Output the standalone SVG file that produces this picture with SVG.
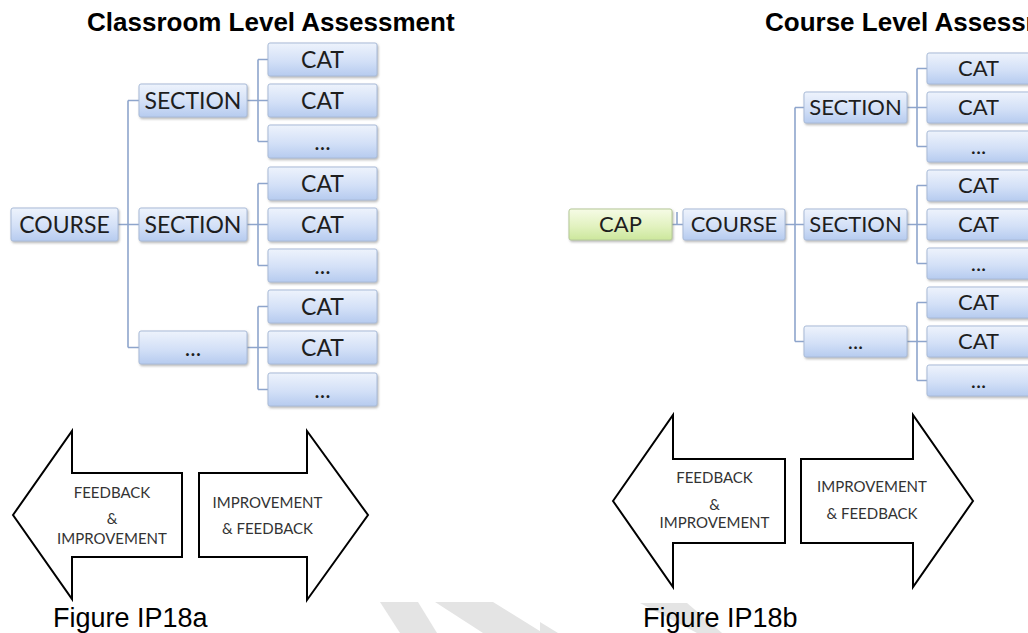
<svg xmlns="http://www.w3.org/2000/svg" width="1028" height="633" viewBox="0 0 1028 633">
  <defs>
    <linearGradient id="blueFill" x1="0" y1="0" x2="0" y2="1">
      <stop offset="0" stop-color="#eef3fc"/>
      <stop offset="0.55" stop-color="#d3e0f7"/>
      <stop offset="1" stop-color="#b6cbef"/>
    </linearGradient>
    <linearGradient id="greenFill" x1="0" y1="0" x2="0" y2="1">
      <stop offset="0" stop-color="#f6fbe6"/>
      <stop offset="0.55" stop-color="#e2f2c0"/>
      <stop offset="1" stop-color="#cce79c"/>
    </linearGradient>
    <filter id="shadow" x="-10%" y="-20%" width="125%" height="150%">
      <feDropShadow dx="1" dy="1.5" stdDeviation="0.8" flood-color="#7a7a7a" flood-opacity="0.55"/>
    </filter>
    <style>
      .box { fill: url(#blueFill); stroke: #a9bbd8; stroke-width: 1; filter: url(#shadow); }
      .cap { fill: url(#greenFill); stroke: #b5c998; stroke-width: 1; filter: url(#shadow); }
      .lbl { font-family: Lato, "Open Sans", sans-serif; font-size: 23px; fill: #1e1e1e; text-anchor: middle; }
      .lblb { font-family: Lato, "Open Sans", sans-serif; font-size: 22px; fill: #1e1e1e; text-anchor: middle; }
      .conn { fill: none; stroke: #8ea5cc; stroke-width: 1.6; }
      .arrow { fill: #ffffff; stroke: #000000; stroke-width: 2; stroke-linejoin: miter; }
      .atxt { font-family: Lato, "Open Sans", sans-serif; font-size: 15px; fill: #333333; text-anchor: middle; }
      .title { font-family: "Liberation Sans", Arial, sans-serif; font-weight: bold; font-size: 26px; fill: #000000; }
      .fig { font-family: "Liberation Sans", Arial, sans-serif; font-size: 27px; fill: #000000; }
      .wm { fill: #e4e4e4; }
    </style>
  </defs>

  <rect x="0" y="0" width="1028" height="633" fill="#ffffff"/>

  <!-- background watermark fragments -->
  <g id="watermark">
    <polygon class="wm" points="380,602 418,602 437,633 400,633"/>
    <polygon class="wm" points="435,602 493,602 543,633 483,633"/>
    <polygon class="wm" points="640,603 687,603 722,633 697,633"/>
    <polygon class="wm" points="540,622 558,633 540,633"/>
  </g>

  <!-- titles -->
  <text id="title-a" class="title" x="87" y="31">Classroom Level Assessment</text>
  <text id="title-b" class="title" x="765" y="31">Course Level Assessment</text>

  <!-- connectors -->
  <g id="connectors">
    <!-- figure a -->
    <path class="conn" d="M118,224.5 H139 M128,100.5 V347.5 M128,100.5 H139 M128,347.5 H139"/>
    <path class="conn" d="M247,100.5 H268 M258,59.5 V141.5 M258,59.5 H268 M258,141.5 H268"/>
    <path class="conn" d="M247,224.5 H268 M258,183.5 V265.5 M258,183.5 H268 M258,265.5 H268"/>
    <path class="conn" d="M247,347.5 H268 M258,306.5 V389.5 M258,306.5 H268 M258,389.5 H268"/>
    <!-- figure b -->
    <path class="conn" d="M672,224.5 H683 M677,212 V224.5"/>
    <path class="conn" d="M785,224.5 H804 M795,107.5 V341.5 M795,107.5 H804 M795,341.5 H804"/>
    <path class="conn" d="M907,107.5 H927 M917,68.5 V146.5 M917,68.5 H927 M917,146.5 H927"/>
    <path class="conn" d="M907,224.5 H927 M917,185.5 V263.5 M917,185.5 H927 M917,263.5 H927"/>
    <path class="conn" d="M907,341.5 H927 M917,302.5 V380.5 M917,302.5 H927 M917,380.5 H927"/>
  </g>

  <!-- figure a nodes -->
  <g id="a-course"><rect class="box" x="11" y="208" width="107" height="33" rx="2"/><text class="lbl" x="64.5" y="233">COURSE</text></g>
  <g id="a-section1"><rect class="box" x="139" y="84" width="108" height="33" rx="2"/><text class="lbl" x="193" y="109">SECTION</text></g>
  <g id="a-section2"><rect class="box" x="139" y="208" width="108" height="33" rx="2"/><text class="lbl" x="193" y="233">SECTION</text></g>
  <g id="a-section3"><rect class="box" x="139" y="331" width="108" height="33" rx="2"/><text class="lbl" x="193" y="356">...</text></g>
  <g id="a-cat1"><rect class="box" x="268" y="43" width="109" height="33" rx="2"/><text class="lbl" x="322.5" y="68">CAT</text></g>
  <g id="a-cat2"><rect class="box" x="268" y="84" width="109" height="33" rx="2"/><text class="lbl" x="322.5" y="109">CAT</text></g>
  <g id="a-cat3"><rect class="box" x="268" y="125" width="109" height="33" rx="2"/><text class="lbl" x="322.5" y="150">...</text></g>
  <g id="a-cat4"><rect class="box" x="268" y="167" width="109" height="33" rx="2"/><text class="lbl" x="322.5" y="192">CAT</text></g>
  <g id="a-cat5"><rect class="box" x="268" y="208" width="109" height="33" rx="2"/><text class="lbl" x="322.5" y="233">CAT</text></g>
  <g id="a-cat6"><rect class="box" x="268" y="249" width="109" height="33" rx="2"/><text class="lbl" x="322.5" y="274">...</text></g>
  <g id="a-cat7"><rect class="box" x="268" y="290" width="109" height="33" rx="2"/><text class="lbl" x="322.5" y="315">CAT</text></g>
  <g id="a-cat8"><rect class="box" x="268" y="331" width="109" height="33" rx="2"/><text class="lbl" x="322.5" y="356">CAT</text></g>
  <g id="a-cat9"><rect class="box" x="268" y="373" width="109" height="33" rx="2"/><text class="lbl" x="322.5" y="398">...</text></g>

  <!-- figure b nodes -->
  <g id="b-cap"><rect class="cap" x="569" y="209" width="103" height="31" rx="2"/><text class="lblb" x="620.5" y="232">CAP</text></g>
  <g id="b-course"><rect class="box" x="683" y="209" width="102" height="31" rx="2"/><text class="lblb" x="734" y="232">COURSE</text></g>
  <g id="b-section1"><rect class="box" x="804" y="92" width="103" height="31" rx="2"/><text class="lblb" x="855.5" y="115">SECTION</text></g>
  <g id="b-section2"><rect class="box" x="804" y="209" width="103" height="31" rx="2"/><text class="lblb" x="855.5" y="232">SECTION</text></g>
  <g id="b-section3"><rect class="box" x="804" y="326" width="103" height="31" rx="2"/><text class="lblb" x="855.5" y="349">...</text></g>
  <g id="b-cat1"><rect class="box" x="927" y="53" width="103" height="31" rx="2"/><text class="lblb" x="978.5" y="76">CAT</text></g>
  <g id="b-cat2"><rect class="box" x="927" y="92" width="103" height="31" rx="2"/><text class="lblb" x="978.5" y="115">CAT</text></g>
  <g id="b-cat3"><rect class="box" x="927" y="131" width="103" height="31" rx="2"/><text class="lblb" x="978.5" y="154">...</text></g>
  <g id="b-cat4"><rect class="box" x="927" y="170" width="103" height="31" rx="2"/><text class="lblb" x="978.5" y="193">CAT</text></g>
  <g id="b-cat5"><rect class="box" x="927" y="209" width="103" height="31" rx="2"/><text class="lblb" x="978.5" y="232">CAT</text></g>
  <g id="b-cat6"><rect class="box" x="927" y="248" width="103" height="31" rx="2"/><text class="lblb" x="978.5" y="271">...</text></g>
  <g id="b-cat7"><rect class="box" x="927" y="287" width="103" height="31" rx="2"/><text class="lblb" x="978.5" y="310">CAT</text></g>
  <g id="b-cat8"><rect class="box" x="927" y="326" width="103" height="31" rx="2"/><text class="lblb" x="978.5" y="349">CAT</text></g>
  <g id="b-cat9"><rect class="box" x="927" y="365" width="103" height="31" rx="2"/><text class="lblb" x="978.5" y="388">...</text></g>

  <!-- feedback arrows, figure a -->
  <g id="a-arrow-left">
    <path class="arrow" d="M13,515 L72,431 L72,473 L182,473 L182,557 L72,557 L72,599 Z"/>
    <text class="atxt" x="112" y="498">FEEDBACK</text>
    <text class="atxt" x="112" y="524">&amp;</text>
    <text class="atxt" x="112" y="544">IMPROVEMENT</text>
  </g>
  <g id="a-arrow-right">
    <path class="arrow" d="M199,473 L307,473 L307,431 L368,515 L307,600 L307,557 L199,557 Z"/>
    <text class="atxt" x="267.5" y="508">IMPROVEMENT</text>
    <text class="atxt" x="267.5" y="534">&amp; FEEDBACK</text>
  </g>

  <!-- feedback arrows, figure b -->
  <g id="b-arrow-left">
    <path class="arrow" d="M613,501 L673,415 L673,459 L785,459 L785,543 L673,543 L673,587 Z"/>
    <text class="atxt" x="714.5" y="483">FEEDBACK</text>
    <text class="atxt" x="714.5" y="510">&amp;</text>
    <text class="atxt" x="714.5" y="528">IMPROVEMENT</text>
  </g>
  <g id="b-arrow-right">
    <path class="arrow" d="M801,459 L913,459 L913,415 L973,501 L913,587 L913,543 L801,543 Z"/>
    <text class="atxt" x="872" y="492">IMPROVEMENT</text>
    <text class="atxt" x="872" y="519">&amp; FEEDBACK</text>
  </g>

  <!-- captions -->
  <text id="caption-a" class="fig" x="53" y="627">Figure IP18a</text>
  <text id="caption-b" class="fig" x="643" y="627">Figure IP18b</text>
</svg>
